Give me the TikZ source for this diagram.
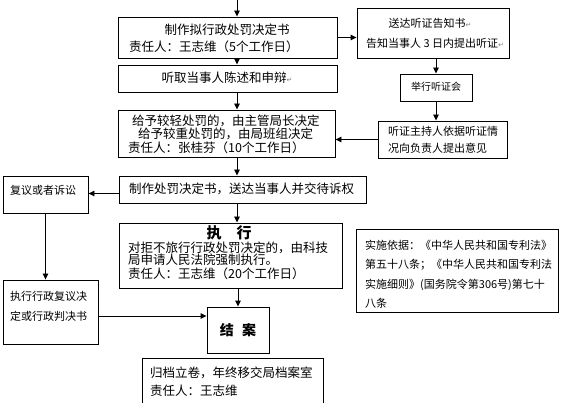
\documentclass[tikz,border=0pt]{standalone}
\usepackage{fontspec}
\setmainfont{Noto Sans CJK SC}
\newfontfamily\symfont{DejaVu Sans}
\usetikzlibrary{arrows.meta}
\newcommand{\parmark}{{\symfont\color{gray}\fontsize{7}{7}\selectfont ↵}}
\begin{document}
\begin{tikzpicture}[x=1pt,y=-1pt,
  box/.style={draw, line width=0.9pt, inner sep=0pt},
  arr/.style={-{Triangle[length=6pt,width=5.5pt]}, line width=0.9pt},
  big/.style={inner sep=0pt, font=\fontsize{12.5}{13.5}\selectfont},
  small/.style={inner sep=0pt, font=\fontsize{11}{12}\selectfont},
  lt/.style={anchor=west}]
\useasboundingbox (0,0) rectangle (562,403);
% boxes
\node[box, minimum width=219pt, minimum height=41pt] (b1) at (227.5,37.5) {};
\node[box, minimum width=152pt, minimum height=50pt] (n) at (433,33) {};
\node[box, minimum width=219pt, minimum height=27pt] (b2) at (227.5,78.5) {};
\node[box, minimum width=72pt, minimum height=27pt] (h) at (436,87.5) {};
\node[box, minimum width=129pt, minimum height=37pt] (o) at (442.5,139.5) {};
\node[box, minimum width=217pt, minimum height=47pt] (b3) at (226.5,133.5) {};
\node[box, minimum width=247pt, minimum height=27pt] (b4) at (242.5,189.5) {};
\node[box, minimum width=85pt, minimum height=37pt] (f) at (45.5,194.5) {};
\node[box, minimum width=95pt, minimum height=64pt] (e) at (50.5,312) {};
\node[box, minimum width=223pt, minimum height=65pt] (x) at (230.5,255.5) {};
\node[box, minimum width=62pt, minimum height=46pt] (j) at (238,330) {};
\node[box, minimum width=181pt, minimum height=52pt] (k) at (232.5,384) {};
\node[box, minimum width=202pt, minimum height=83pt] (l) at (457,270.5) {};
% texts
\node[big] (b1t1) at (227,30) {制作拟行政处罚决定书};
\node[big,lt] (b1t2) at (129,47) {责任人：王志维（5个工作日）};
\node[small] (nt1) at (430,23) {送达听证告知书\parmark};
\node[small,lt] (nt2) at (366,43) {告知当事人 3 日内提出听证\parmark};
\node[big] (b2t) at (227,78) {听取当事人陈述和申辩\parmark};
\node[inner sep=0pt, font=\fontsize{10}{12}\selectfont] (ht) at (436,87) {举行听证会};
\node[small,lt] (ot1) at (388,131) {听证主持人依据听证情};
\node[small,lt] (ot2) at (388,148) {况向负责人提出意见};
\node[big,lt] (b3t1) at (132,121) {给予较轻处罚的，由主管局长决定};
\node[big,lt] (b3t2) at (138,134) {给予较重处罚的，由局班组决定};
\node[big,lt] (b3t3) at (128,148) {责任人：张桂芬（10个工作日）};
\node[big,lt] (b4t) at (129,189) {制作处罚决定书，送达当事人并交待诉权};
\node[small,lt] (ft) at (10,190) {复议或者诉讼};
\node[small,lt] (et1) at (10,296) {执行行政复议决};
\node[small,lt] (et2) at (10,316) {定或行政判决书};
\node[inner sep=0pt, font=\fontsize{15}{15}\selectfont\bfseries] (xt0) at (229,233) {执\hspace{1em}行};
\node[big,lt] (xt1) at (128,248) {对拒不旅行行政处罚决定的，由科技};
\node[big,lt] (xt2) at (128,260) {局申请人民法院强制执行。};
\node[big,lt] (xt3) at (128,274) {责任人：王志维（20个工作日）};
\node[inner sep=0pt, font=\fontsize{14}{14}\selectfont\bfseries] (jt) at (238,330) {结\hspace{0.6em}案};
\node[big,lt] (kt1) at (150,373) {归档立卷，年终移交局档案室};
\node[big,lt] (kt2) at (150,391) {责任人：王志维};
\node[small,lt] (lt1) at (365,245) {实施依据：《中华人民共和国专利法》};
\node[small,lt] (lt2) at (365,265) {第五十八条；《中华人民共和国专利法};
\node[small,lt] (lt3) at (365,285) {实施细则》(国务院令第306号)第七十};
\node[small,lt] (lt4) at (365,303) {八条};
% connectors
\coordinate (top) at (237,0);
\draw[arr] (top) -- (top |- b1.north);
\draw[arr] (b1.south -| top) -- (b2.north -| top);
\draw[arr] (b2.south -| top) -- (b3.north -| top);
\draw[arr] (b3.south -| top) -- (b4.north -| top);
\draw[arr] (b4.south -| top) -- (x.north -| top);
\draw[arr] (x.south -| j) -- (j.north);
\draw[arr] (b1.east) -- (n.west |- b1.east);
\draw[arr] (n.south -| h) -- (h.north);
\draw[arr] (h.south) -- (o.north -| h);
\draw[arr] (o.west) -- (b3.east |- o.west);
\draw[arr] ([yshift=-4pt]b4.west) coordinate (bw) -- (bw -| f.east);
\draw[arr] (f.south) -- (e.north -| f.south);
\draw[arr] ([yshift=-4pt]e.east) coordinate (ew) -- (ew -| j.west);
\end{tikzpicture}
\end{document}
